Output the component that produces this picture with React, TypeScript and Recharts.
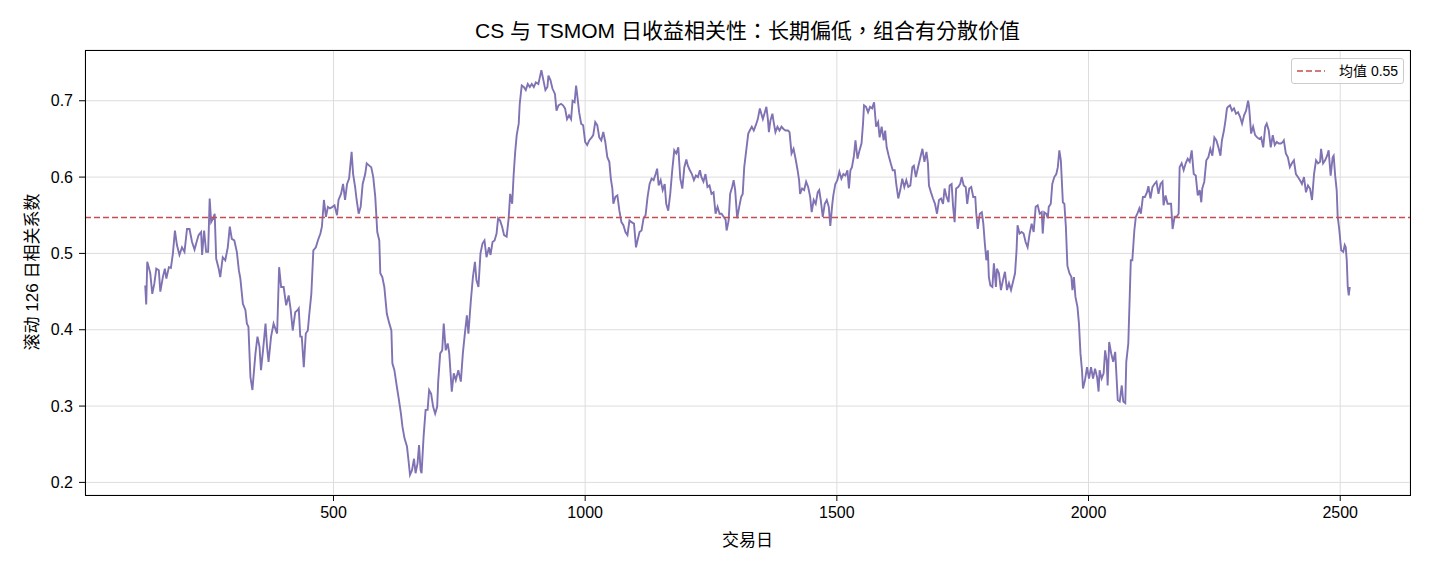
import React from 'react';
import { LineChart, Line, XAxis, YAxis, CartesianGrid, ReferenceLine } from 'recharts';

// 126 日滚动相关系数，按交易日读数 [day, corr]
const CORR_0126_0429: [number, number][] = [
  [126, 0.458], [128, 0.433], [130, 0.489], [133, 0.482], [136, 0.474], [140, 0.447], [144, 0.46], [148, 0.48],
  [153, 0.478], [156, 0.45], [161, 0.469], [165, 0.48], [168, 0.467], [173, 0.482], [177, 0.481], [181, 0.5],
  [185, 0.53], [189, 0.511], [194, 0.498], [199, 0.508], [204, 0.502], [209, 0.532], [214, 0.532], [219, 0.515],
  [224, 0.505], [228, 0.515], [232, 0.524], [237, 0.528], [239, 0.498], [243, 0.53], [247, 0.502], [251, 0.502],
  [254, 0.572], [257, 0.541], [261, 0.546], [264, 0.552], [267, 0.493], [272, 0.48], [275, 0.469], [280, 0.495],
  [285, 0.491], [290, 0.508], [294, 0.535], [298, 0.519], [303, 0.517], [308, 0.502], [312, 0.478], [315, 0.467],
  [320, 0.434], [325, 0.426], [328, 0.408], [331, 0.404], [335, 0.338], [339, 0.321], [341, 0.338], [345, 0.369],
  [349, 0.391], [353, 0.378], [356, 0.347], [360, 0.373], [365, 0.408], [368, 0.378], [371, 0.358], [376, 0.391],
  [381, 0.408], [388, 0.395], [392, 0.482], [396, 0.456], [401, 0.456], [406, 0.432], [411, 0.445], [415, 0.426],
  [419, 0.399], [424, 0.423], [429, 0.426],
];

const CORR_0431_0739: [number, number][] = [
  [431, 0.428], [434, 0.391], [437, 0.391], [441, 0.351], [445, 0.395], [449, 0.399], [452, 0.421], [456, 0.447],
  [460, 0.504], [465, 0.508], [469, 0.517], [474, 0.526], [477, 0.535], [481, 0.57], [485, 0.548], [489, 0.561],
  [493, 0.559], [498, 0.561], [502, 0.563], [507, 0.55], [510, 0.57], [515, 0.578], [519, 0.591], [523, 0.57],
  [527, 0.591], [531, 0.598], [536, 0.633], [539, 0.604], [543, 0.587], [546, 0.57], [550, 0.552], [554, 0.561],
  [558, 0.591], [563, 0.604], [566, 0.618], [571, 0.615], [575, 0.613], [579, 0.6], [583, 0.574], [587, 0.528],
  [591, 0.517], [593, 0.474], [597, 0.469], [601, 0.456], [606, 0.421], [611, 0.408], [615, 0.399], [617, 0.356],
  [621, 0.347], [626, 0.325], [630, 0.308], [634, 0.29], [637, 0.273], [641, 0.258], [646, 0.247], [649, 0.229],
  [652, 0.21], [656, 0.216], [660, 0.231], [663, 0.212], [667, 0.225], [670, 0.249], [673, 0.216], [675, 0.212],
  [679, 0.26], [683, 0.295], [687, 0.295], [690, 0.321], [694, 0.316], [698, 0.299], [702, 0.29], [706, 0.299],
  [708, 0.332], [712, 0.369], [716, 0.373], [719, 0.408], [723, 0.373], [727, 0.382], [730, 0.369], [735, 0.319],
  [739, 0.343],
];

const CORR_0743_1048: [number, number][] = [
  [743, 0.334], [748, 0.347], [753, 0.332], [757, 0.369], [761, 0.395], [765, 0.419], [768, 0.395], [773, 0.439],
  [777, 0.469], [781, 0.489], [784, 0.465], [788, 0.456], [792, 0.5], [796, 0.513], [800, 0.517], [804, 0.495],
  [809, 0.508], [812, 0.498], [816, 0.515], [820, 0.517], [824, 0.526], [827, 0.546], [831, 0.543], [835, 0.535],
  [839, 0.524], [844, 0.522], [848, 0.546], [851, 0.578], [855, 0.565], [858, 0.604], [861, 0.633], [864, 0.655],
  [868, 0.67], [870, 0.696], [874, 0.72], [878, 0.718], [882, 0.714], [886, 0.722], [890, 0.718], [894, 0.722],
  [898, 0.718], [902, 0.724], [907, 0.722], [910, 0.731], [913, 0.74], [917, 0.727], [921, 0.714], [925, 0.718],
  [927, 0.733], [931, 0.727], [935, 0.716], [940, 0.709], [943, 0.687], [947, 0.694], [952, 0.696], [956, 0.694],
  [960, 0.69], [964, 0.676], [968, 0.681], [972, 0.676], [975, 0.7], [979, 0.698], [982, 0.72], [985, 0.703],
  [988, 0.685], [992, 0.67], [996, 0.668], [1000, 0.646], [1004, 0.642], [1008, 0.648], [1013, 0.652], [1016, 0.655],
  [1020, 0.672], [1024, 0.668], [1028, 0.652], [1032, 0.648], [1036, 0.659], [1040, 0.646], [1044, 0.626], [1048, 0.62],
];

const CORR_1051_1353: [number, number][] = [
  [1051, 0.598], [1054, 0.585], [1056, 0.565], [1060, 0.574], [1064, 0.576], [1068, 0.556], [1072, 0.541], [1076, 0.537],
  [1080, 0.528], [1084, 0.524], [1088, 0.543], [1092, 0.541], [1097, 0.539], [1101, 0.508], [1104, 0.517], [1108, 0.528],
  [1112, 0.53], [1116, 0.546], [1120, 0.55], [1124, 0.574], [1128, 0.591], [1132, 0.598], [1136, 0.596], [1140, 0.604],
  [1143, 0.611], [1146, 0.589], [1150, 0.596], [1154, 0.583], [1158, 0.591], [1161, 0.565], [1165, 0.556], [1169, 0.578],
  [1173, 0.609], [1177, 0.635], [1181, 0.631], [1185, 0.639], [1189, 0.598], [1193, 0.585], [1197, 0.613], [1201, 0.623],
  [1204, 0.615], [1208, 0.609], [1212, 0.604], [1216, 0.596], [1220, 0.602], [1224, 0.6], [1228, 0.609], [1231, 0.6],
  [1235, 0.594], [1239, 0.604], [1243, 0.587], [1247, 0.589], [1251, 0.578], [1255, 0.58], [1259, 0.552], [1263, 0.561],
  [1267, 0.552], [1271, 0.552], [1275, 0.548], [1279, 0.544], [1281, 0.53], [1285, 0.543], [1288, 0.578], [1292, 0.587],
  [1295, 0.596], [1298, 0.583], [1302, 0.546], [1306, 0.561], [1310, 0.574], [1313, 0.578], [1316, 0.613], [1320, 0.635],
  [1324, 0.657], [1327, 0.661], [1331, 0.666], [1335, 0.661], [1339, 0.668], [1343, 0.676], [1347, 0.69], [1350, 0.683],
  [1353, 0.676],
];

const CORR_1357_1661: [number, number][] = [
  [1357, 0.685], [1360, 0.692], [1363, 0.676], [1365, 0.659], [1368, 0.674], [1372, 0.683], [1374, 0.674], [1378, 0.659],
  [1382, 0.666], [1386, 0.661], [1390, 0.666], [1394, 0.663], [1398, 0.661], [1403, 0.661], [1406, 0.659], [1410, 0.631],
  [1414, 0.637], [1418, 0.624], [1422, 0.609], [1425, 0.596], [1427, 0.578], [1431, 0.585], [1435, 0.583], [1439, 0.594],
  [1443, 0.587], [1447, 0.574], [1450, 0.554], [1454, 0.57], [1458, 0.565], [1462, 0.58], [1465, 0.583], [1468, 0.57],
  [1472, 0.548], [1476, 0.565], [1480, 0.57], [1484, 0.561], [1487, 0.536], [1491, 0.565], [1493, 0.576], [1497, 0.591],
  [1501, 0.596], [1505, 0.607], [1509, 0.598], [1513, 0.604], [1517, 0.602], [1521, 0.609], [1524, 0.585], [1527, 0.609],
  [1530, 0.613], [1534, 0.628], [1537, 0.648], [1541, 0.624], [1545, 0.635], [1549, 0.644], [1552, 0.67], [1554, 0.694],
  [1558, 0.692], [1562, 0.685], [1566, 0.692], [1570, 0.69], [1574, 0.698], [1578, 0.666], [1582, 0.672], [1585, 0.652],
  [1589, 0.666], [1593, 0.648], [1596, 0.661], [1599, 0.639], [1603, 0.628], [1607, 0.618], [1611, 0.609], [1615, 0.609],
  [1618, 0.591], [1622, 0.572], [1626, 0.583], [1630, 0.598], [1634, 0.587], [1638, 0.596], [1642, 0.587], [1646, 0.589],
  [1650, 0.613], [1653, 0.615], [1657, 0.6], [1661, 0.612],
];

const CORR_1666_1962: [number, number][] = [
  [1666, 0.626], [1670, 0.637], [1674, 0.62], [1678, 0.633], [1681, 0.618], [1683, 0.589], [1687, 0.58], [1691, 0.572],
  [1695, 0.565], [1699, 0.552], [1703, 0.57], [1707, 0.572], [1711, 0.565], [1714, 0.585], [1718, 0.574], [1722, 0.567],
  [1724, 0.589], [1728, 0.591], [1731, 0.561], [1734, 0.541], [1737, 0.585], [1741, 0.587], [1745, 0.591], [1748, 0.6],
  [1752, 0.589], [1756, 0.587], [1759, 0.565], [1763, 0.585], [1767, 0.587], [1771, 0.574], [1775, 0.574], [1777, 0.552],
  [1780, 0.532], [1784, 0.552], [1788, 0.554], [1791, 0.539], [1794, 0.513], [1797, 0.491], [1800, 0.504], [1802, 0.469],
  [1805, 0.458], [1809, 0.456], [1812, 0.487], [1816, 0.456], [1818, 0.48], [1822, 0.474], [1826, 0.452], [1830, 0.465],
  [1834, 0.476], [1838, 0.452], [1842, 0.461], [1846, 0.452], [1850, 0.463], [1854, 0.474], [1857, 0.504], [1859, 0.537],
  [1863, 0.526], [1867, 0.528], [1871, 0.526], [1875, 0.515], [1879, 0.508], [1883, 0.526], [1887, 0.539], [1891, 0.528],
  [1895, 0.561], [1899, 0.563], [1903, 0.552], [1907, 0.554], [1909, 0.526], [1912, 0.554], [1916, 0.552], [1919, 0.546],
  [1921, 0.561], [1925, 0.565], [1928, 0.591], [1932, 0.6], [1936, 0.604], [1939, 0.613], [1942, 0.635], [1945, 0.622],
  [1949, 0.567], [1952, 0.565], [1955, 0.535], [1958, 0.484], [1962, 0.474],
];

const CORR_1966_2272: [number, number][] = [
  [1966, 0.469], [1968, 0.452], [1971, 0.469], [1974, 0.443], [1978, 0.43], [1981, 0.408], [1984, 0.369], [1987, 0.347],
  [1989, 0.323], [1993, 0.334], [1997, 0.351], [2001, 0.336], [2005, 0.351], [2009, 0.336], [2013, 0.349], [2017, 0.338],
  [2020, 0.319], [2022, 0.347], [2026, 0.336], [2030, 0.343], [2033, 0.373], [2036, 0.36], [2038, 0.327], [2041, 0.384],
  [2045, 0.369], [2049, 0.358], [2053, 0.371], [2056, 0.334], [2058, 0.308], [2062, 0.306], [2066, 0.327], [2069, 0.306],
  [2073, 0.304], [2075, 0.358], [2079, 0.382], [2082, 0.447], [2084, 0.491], [2087, 0.491], [2091, 0.53], [2094, 0.548],
  [2097, 0.552], [2101, 0.559], [2104, 0.552], [2108, 0.574], [2112, 0.574], [2116, 0.58], [2119, 0.588], [2123, 0.572],
  [2127, 0.587], [2131, 0.591], [2135, 0.594], [2139, 0.578], [2143, 0.591], [2147, 0.594], [2149, 0.563], [2153, 0.576],
  [2157, 0.565], [2161, 0.565], [2164, 0.565], [2167, 0.532], [2171, 0.548], [2175, 0.548], [2179, 0.552], [2181, 0.613],
  [2185, 0.618], [2189, 0.609], [2193, 0.618], [2197, 0.624], [2201, 0.62], [2205, 0.635], [2209, 0.604], [2213, 0.602],
  [2217, 0.576], [2221, 0.583], [2224, 0.567], [2226, 0.585], [2230, 0.594], [2234, 0.622], [2238, 0.626], [2242, 0.637],
  [2246, 0.628], [2250, 0.652], [2254, 0.648], [2258, 0.639], [2262, 0.628], [2265, 0.648], [2269, 0.661], [2272, 0.674],
];

const CORR_2275_2519: [number, number][] = [
  [2275, 0.69], [2277, 0.692], [2281, 0.694], [2285, 0.687], [2289, 0.69], [2293, 0.683], [2297, 0.685], [2301, 0.679],
  [2305, 0.67], [2309, 0.681], [2313, 0.687], [2317, 0.7], [2319, 0.692], [2323, 0.657], [2327, 0.666], [2331, 0.655],
  [2335, 0.652], [2339, 0.65], [2343, 0.652], [2347, 0.639], [2351, 0.666], [2354, 0.67], [2358, 0.661], [2362, 0.639],
  [2366, 0.655], [2370, 0.642], [2374, 0.646], [2378, 0.644], [2382, 0.644], [2386, 0.646], [2388, 0.648], [2392, 0.631],
  [2396, 0.626], [2400, 0.613], [2404, 0.618], [2408, 0.622], [2412, 0.604], [2416, 0.6], [2420, 0.596], [2424, 0.591],
  [2428, 0.6], [2432, 0.58], [2436, 0.589], [2440, 0.585], [2444, 0.57], [2448, 0.604], [2452, 0.622], [2456, 0.618],
  [2460, 0.62], [2462, 0.637], [2466, 0.618], [2470, 0.622], [2474, 0.628], [2477, 0.635], [2481, 0.602], [2485, 0.626],
  [2487, 0.628], [2490, 0.602], [2493, 0.583], [2495, 0.548], [2498, 0.532], [2502, 0.504], [2506, 0.502], [2509, 0.511],
  [2511, 0.508], [2513, 0.491], [2515, 0.456], [2517, 0.445], [2519, 0.456],
];

const X_TICKS = [500, 1000, 1500, 2000, 2500];
const Y_TICKS = [0.2, 0.3, 0.4, 0.5, 0.6, 0.7];
const MEAN_CORR = 0.547;

const DATA = [
  ...CORR_0126_0429,
  ...CORR_0431_0739,
  ...CORR_0743_1048,
  ...CORR_1051_1353,
  ...CORR_1357_1661,
  ...CORR_1666_1962,
  ...CORR_1966_2272,
  ...CORR_2275_2519,
].map(([day, corr]) => ({ day, corr }));

const FONT = '"Liberation Sans", Arial, "Noto Sans CJK SC", sans-serif';
const TITLE_FONT = '"Liberation Sans", Arial, "Noto Sans CJK TC", sans-serif';
const LINE_COLOR = '#8172B3';
const MEAN_COLOR = '#C44E52';

export default function App() {
  return (
    <div style={{ position: 'absolute', left: 0, top: 0, width: 1430, height: 572, background: '#fff', fontFamily: FONT, color: '#000' }}>
      <LineChart width={1430} height={572} data={DATA} margin={{ top: 50, right: 20, bottom: 0, left: 0 }}>
        <CartesianGrid stroke="#dddddd" strokeWidth={1} />
        <XAxis
          dataKey="day"
          type="number"
          domain={[6.35, 2638.65]}
          ticks={X_TICKS}
          allowDataOverflow
          height={77}
          axisLine={false}
          tickSize={6}
          tickMargin={6}
          tickLine={{ stroke: '#000' }}
          tick={{ fontSize: 16, fill: '#000', fontFamily: FONT }}
        />
        <YAxis
          type="number"
          domain={[0.1835, 0.7665]}
          ticks={Y_TICKS}
          allowDataOverflow
          width={85}
          axisLine={false}
          tickSize={6}
          tickMargin={6}
          tickLine={{ stroke: '#000' }}
          tickFormatter={(v: number) => v.toFixed(1)}
          tick={{ fontSize: 16, fill: '#000', fontFamily: FONT }}
        />
        <Line type="linear" dataKey="corr" stroke={LINE_COLOR} strokeWidth={1.9} dot={false} isAnimationActive={false} />
        <ReferenceLine y={MEAN_CORR} stroke={MEAN_COLOR} strokeWidth={1.5} strokeDasharray="6 3" />
      </LineChart>

      {/* 边框 */}
      <div style={{ position: 'absolute', left: 85, top: 50, width: 1326, height: 446, border: '1px solid #000', boxSizing: 'border-box', pointerEvents: 'none' }} />

      <div style={{ position: 'absolute', left: 85, top: 18, width: 1325, textAlign: 'center', fontSize: 21, lineHeight: '26px', fontFamily: TITLE_FONT }}>
        CS 与 TSMOM 日收益相关性：长期偏低，组合有分散价值
      </div>
      <div style={{ position: 'absolute', left: 85, top: 531, width: 1325, textAlign: 'center', fontSize: 17, lineHeight: '20px' }}>
        交易日
      </div>
      <div style={{ position: 'absolute', left: 33 - 150, top: 272 - 10, width: 300, height: 20, textAlign: 'center', fontSize: 17, lineHeight: '20px', transform: 'rotate(-90deg)' }}>
        滚动 126 日相关系数
      </div>

      {/* 图例 */}
      <div style={{ position: 'absolute', left: 1291, top: 58, width: 113, height: 26, border: '1px solid #cccccc', borderRadius: 3, background: 'rgba(255,255,255,0.8)', boxSizing: 'border-box' }}>
        <svg width={30} height={24} style={{ position: 'absolute', left: 4, top: 0 }}>
          <line x1={1} y1={12} x2={29} y2={12} stroke={MEAN_COLOR} strokeWidth={1.5} strokeDasharray="6 3" />
        </svg>
        <div style={{ position: 'absolute', left: 47, top: 4, fontSize: 14, lineHeight: '16px', whiteSpace: 'nowrap' }}>均值 0.55</div>
      </div>
    </div>
  );
}
